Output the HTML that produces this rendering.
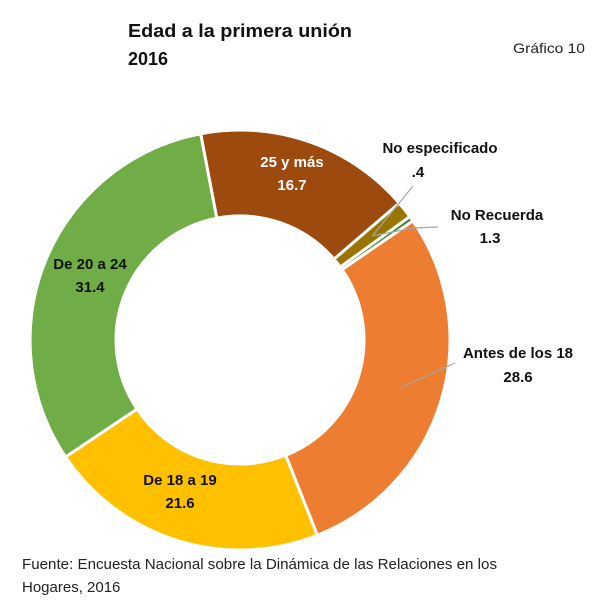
<!DOCTYPE html>
<html><head><meta charset="utf-8"><style>
body{margin:0;background:#fff;}
svg text{font-family:"Liberation Sans",sans-serif;}
</style></head><body>
<svg id="s" width="600" height="604" viewBox="0 0 600 604" xmlns="http://www.w3.org/2000/svg">
<rect width="600" height="604" fill="#fff"/>
<g id="slices"></g>
<text x="128" y="37" font-size="18" font-weight="bold" fill="#111" textLength="224" lengthAdjust="spacingAndGlyphs">Edad a la primera unión</text>
<text x="128" y="65" font-size="18" font-weight="bold" fill="#111">2016</text>
<text x="513" y="53" font-size="14" fill="#222" textLength="72" lengthAdjust="spacingAndGlyphs">Gráfico 10</text>
<g stroke="#a6a6a6" stroke-width="1.2" fill="none">
<polyline points="413,186 373,235"/>
<polyline points="438,227 413,228 372,236"/>
<polyline points="455,363 402,387"/>
</g>
<g font-size="15" font-weight="bold" text-anchor="middle" fill="#111">
<text x="292" y="167" fill="#fff">25 y más</text><text x="292" y="190" fill="#fff">16.7</text>
<text x="440" y="153">No especificado</text><text x="418" y="177">.4</text>
<text x="497" y="220">No Recuerda</text><text x="490" y="243">1.3</text>
<text x="518" y="358">Antes de los 18</text><text x="518" y="382">28.6</text>
<text x="90" y="269">De 20 a 24</text><text x="90" y="292">31.4</text>
<text x="180" y="485">De 18 a 19</text><text x="180" y="508">21.6</text>
</g>
<text x="22" y="569" font-size="15" fill="#222" textLength="475" lengthAdjust="spacingAndGlyphs">Fuente: Encuesta Nacional sobre la Dinámica de las Relaciones en los</text>
<text x="22" y="592" font-size="15" fill="#222">Hogares, 2016</text>
</svg>
<script>
var cx=240,cy=340,R=210,r=124;
var data=[[16.7,"#9c4a0e"],[1.3,"#9a7400"],[0.4,"#3f7f2f"],[28.6,"#ed7d31"],[21.6,"#ffc000"],[31.4,"#70ad47"]];
var a=-10.8,g=document.getElementById("slices"),h="";
function p(rad,deg){var t=deg*Math.PI/180;return (cx+rad*Math.sin(t)).toFixed(2)+","+(cy-rad*Math.cos(t)).toFixed(2);}
data.forEach(function(d){var b=a+d[0]*3.6;var lg=(b-a)>180?1:0;
h+='<path d="M'+p(R,a)+' A'+R+','+R+' 0 '+lg+' 1 '+p(R,b)+' L'+p(r,b)+' A'+r+','+r+' 0 '+lg+' 0 '+p(r,a)+' Z" fill="'+d[1]+'" stroke="#fff" stroke-width="3"/>';a=b;});
g.innerHTML=h;
</script>
</body></html>
